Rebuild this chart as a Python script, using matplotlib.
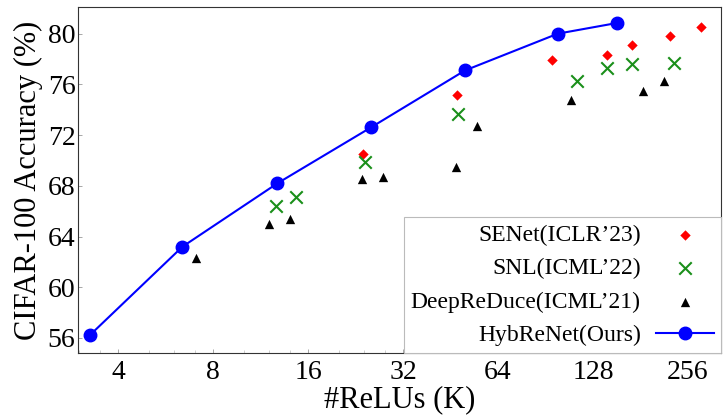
import matplotlib.pyplot as plt
from matplotlib.ticker import FixedLocator, FixedFormatter, LogLocator, NullFormatter

plt.rcParams['font.family'] = ['Liberation Serif', 'DejaVu Serif']

# HybReNet (ours)
hyb_x = [3.25, 6.4, 12.8, 25.3, 50.3, 99, 153]
hyb_y = [56.2, 63.2, 68.2, 72.6, 77.1, 80.0, 80.85]

# SENet (ICLR'23)
senet_x = [23.9, 47.4, 95, 142, 170, 224, 281]
senet_y = [70.5, 75.2, 77.9, 78.3, 79.1, 79.8, 80.5]

# SNL (ICML'22)
snl_x = [12.7, 14.7, 24.3, 47.9, 114, 142, 170, 232]
snl_y = [66.4, 67.1, 69.9, 73.7, 76.3, 77.3, 77.6, 77.7]

# DeepReDuce (ICML'21)
drd_x = [7.07, 12.0, 14.0, 23.8, 27.7, 47.2, 55, 109, 185, 215]
drd_y = [62.3, 65.0, 65.4, 68.5, 68.7, 69.5, 72.7, 74.8, 75.5, 76.3]

xticks = [4, 8, 16, 32, 64, 128, 256]
yticks = [56, 60, 64, 68, 72, 76, 80]

fig = plt.figure(figsize=(7.24, 4.15), dpi=100)
ax = fig.add_axes([0.108, 0.149, 0.888, 0.834])

ax.scatter(senet_x, senet_y, marker='D', s=28, color='red', linewidths=0,
           label='SENet(ICLR\u201923)', zorder=3)
ax.scatter(snl_x, snl_y, marker='x', s=80, color='#1a8f1a', linewidths=1.5,
           label='SNL(ICML\u201922)', zorder=3)
ax.scatter(drd_x, drd_y, marker='^', s=45, color='black', linewidths=0,
           label='DeepReDuce(ICML\u201921)', zorder=3)
ax.plot(hyb_x, hyb_y, '-o', color='#0000ff', lw=1.5, ms=9,
        label='HybReNet(Ours)', zorder=4)

ax.set_xscale('log', base=2)
ax.set_xlim(2.99, 326)
ax.set_ylim(54.8, 82.1)
ax.xaxis.set_major_locator(FixedLocator(xticks))
ax.xaxis.set_major_formatter(FixedFormatter([str(t) for t in xticks]))
ax.xaxis.set_minor_locator(LogLocator(base=2, subs=[1.25, 1.5, 1.75]))
ax.xaxis.set_minor_formatter(NullFormatter())
ax.set_yticks(yticks)

ax.tick_params(axis='both', which='major', direction='in', length=3, width=0.6,
               color='#999999', labelsize=20, pad=2)
ax.tick_params(axis='x', which='major', pad=5)
ax.tick_params(axis='x', which='minor', direction='in', length=2, width=0.5,
               color='#bbbbbb')
for sp in ax.spines.values():
    sp.set_color('#333333')
    sp.set_linewidth(0.8)

ax.set_xlabel('#ReLUs (K)', fontsize=22, labelpad=0)
ax.set_ylabel('CIFAR-100 Accuracy (%)', fontsize=22, labelpad=3)

leg = ax.legend(loc='lower right', markerfirst=False, fontsize=17,
                fancybox=False, framealpha=1, edgecolor='#bbbbbb',
                borderaxespad=0, handlelength=2.45, labelspacing=0.5,
                borderpad=0.3, handletextpad=0.65, scatterpoints=1)
leg.get_frame().set_linewidth(0.8)

fig.savefig('out.png', dpi=100)
